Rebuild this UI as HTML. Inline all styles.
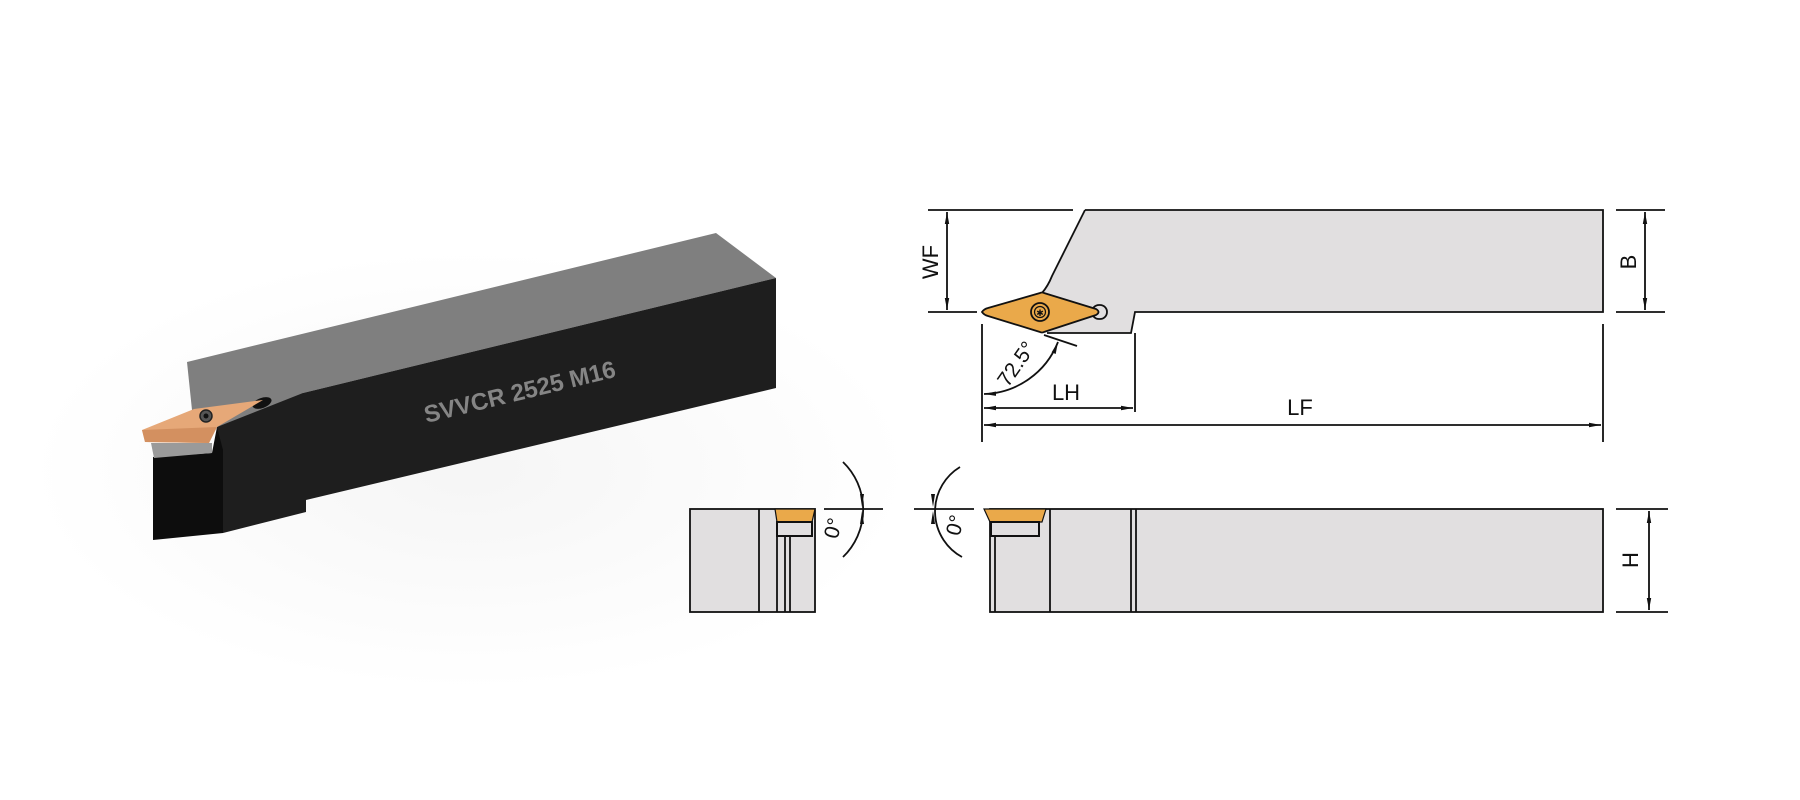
<!DOCTYPE html>
<html><head><meta charset="utf-8"><style>
html,body{margin:0;padding:0;background:#fff;}
svg{display:block;}
text{font-family:"Liberation Sans",sans-serif;}
</style></head><body>
<svg width="1800" height="800" viewBox="0 0 1800 800" xmlns="http://www.w3.org/2000/svg">
<defs>
<radialGradient id="sh" cx="0.5" cy="0.5" r="0.5">
<stop offset="0" stop-color="#ececec"/><stop offset="1" stop-color="#ffffff"/>
</radialGradient>
<marker id="ar" viewBox="0 0 12 6" refX="12" refY="3" markerWidth="12" markerHeight="6" orient="auto-start-reverse" markerUnits="userSpaceOnUse">
<path d="M0,0.8 L12,3 L0,5.2 z" fill="#111"/></marker>
</defs>
<ellipse cx="470" cy="470" rx="440" ry="220" fill="url(#sh)" opacity="0.5"/>

<!-- 3D tool -->
<polygon points="187,362 716,233 776,278 303,393 306,402 263,412 217,427 192,410" fill="#7f7f7f"/>
<polygon points="303,393 776,278 776,388 306,500 306,512 223,533 217,427" fill="#1e1e1e"/>
<polygon points="153,457 212,453 217,427 223,450 223,533 153,540" fill="#0d0d0d"/>
<polygon points="151,443 212,443 212,453 154,458" fill="#9a9a9a"/>
<ellipse cx="262" cy="403" rx="10" ry="5" fill="#111" transform="rotate(-20 262 403)"/>
<polygon points="142,430 194,409 263,400 217,427 209,443 145,442" fill="#e6a878"/>
<polygon points="142,430 145,442 209,443 217,427" fill="#d39060"/>
<circle cx="206" cy="416" r="6" fill="#555" stroke="#222" stroke-width="1.5"/>
<circle cx="206" cy="416" r="2.5" fill="#111"/>
<text x="520" y="400" font-size="24" font-weight="bold" fill="#858585" text-anchor="middle" transform="rotate(-13.7 520 393)">SVVCR 2525 M16</text>

<!-- Top view -->
<g stroke="#111" stroke-width="1.8" fill="none">
<path d="M1085,210 L1603,210 L1603,312 L1135,312 L1131,333 L1047,333 L1042,293 Q1048,285 1052,276 Z" fill="#e1dfe0" stroke="none"/>
<path d="M1085,210 L1603,210 L1603,312 L1135,312 L1131,333 L1047,333"/>
<path d="M1085,210 L1052,276 Q1048,286 1042,293"/>
<line x1="928" y1="210" x2="1073" y2="210"/>
<line x1="928" y1="312" x2="977" y2="312"/>
<line x1="1616" y1="210" x2="1665" y2="210"/>
<line x1="1616" y1="312" x2="1665" y2="312"/>
<line x1="947" y1="212" x2="947" y2="310" marker-start="url(#ar)" marker-end="url(#ar)"/>
<line x1="1645" y1="212" x2="1645" y2="310" marker-start="url(#ar)" marker-end="url(#ar)"/>
<rect x="1092" y="305" width="15" height="14" rx="7" fill="#e1dfe0"/>
<path d="M982,312 Q984,309 988,308 L1040,293 Q1042,292 1044,293 L1096,309 Q1101,312 1096,315 L1044,332 Q1042,333 1040,332 L988,316 Q984,315 982,312 Z" fill="#eaa94a"/>
<circle cx="1040" cy="312" r="9" fill="#eaa94a" stroke-width="1.8"/>
<circle cx="1040" cy="312" r="5.5" stroke-width="1.2"/>
<line x1="982" y1="324" x2="982" y2="442"/>
<line x1="1135" y1="333" x2="1135" y2="412"/>
<line x1="1603" y1="324" x2="1603" y2="442"/>
<line x1="984" y1="408" x2="1133" y2="408" marker-start="url(#ar)" marker-end="url(#ar)"/>
<line x1="984" y1="425" x2="1601" y2="425" marker-start="url(#ar)" marker-end="url(#ar)"/>
<path d="M984,394 A82,82 0 0 0 1058,342" marker-start="url(#ar)" marker-end="url(#ar)"/>
<line x1="1044" y1="335" x2="1077" y2="346"/>
</g>
<text x="1040" y="316" font-size="9" text-anchor="middle" fill="#111">✱</text>
<text x="1066" y="400" font-size="22" text-anchor="middle" fill="#111">LH</text>
<text x="1300" y="415" font-size="22" text-anchor="middle" fill="#111">LF</text>
<text x="0" y="0" font-size="22" text-anchor="middle" fill="#111" transform="translate(938,262) rotate(-90)">WF</text>
<text x="0" y="0" font-size="22" text-anchor="middle" fill="#111" transform="translate(1636,262) rotate(-90)">B</text>
<text x="0" y="0" font-size="21" text-anchor="middle" fill="#111" transform="translate(1022,368) rotate(-55)">72.5°</text>

<!-- Front views -->
<g stroke="#111" stroke-width="1.8" fill="none">
<rect x="690" y="509" width="125" height="103" fill="#e1dfe0"/>
<line x1="759" y1="509" x2="759" y2="612"/>
<line x1="777" y1="536" x2="777" y2="612"/>
<line x1="785" y1="536" x2="785" y2="612"/>
<line x1="790" y1="536" x2="790" y2="612"/>
<polygon points="775,509 815,509 812,522 777,522" fill="#eaa94a" stroke-width="1.2"/>
<rect x="777" y="522" width="35" height="14" fill="#e1dfe0" stroke-width="2"/>
<line x1="824" y1="509" x2="883" y2="509"/>
<path d="M843,462 A66,66 0 0 1 843,557"/>
<rect x="990" y="509" width="613" height="103" fill="#e1dfe0"/>
<line x1="995" y1="509" x2="995" y2="612"/>
<line x1="1050" y1="509" x2="1050" y2="612"/>
<line x1="1131" y1="509" x2="1131" y2="612"/>
<line x1="1136" y1="509" x2="1136" y2="612"/>
<polygon points="984,509 1046,509 1042,522 990,522" fill="#eaa94a" stroke-width="1.2"/>
<rect x="991" y="522" width="48" height="14" fill="#e1dfe0" stroke-width="2"/>
<line x1="914" y1="509" x2="974" y2="509"/>
<path d="M960,467 A52,52 0 0 0 962,557"/>
<line x1="1616" y1="509" x2="1668" y2="509"/>
<line x1="1616" y1="612" x2="1668" y2="612"/>
<line x1="1649" y1="511" x2="1649" y2="610" marker-start="url(#ar)" marker-end="url(#ar)"/>
</g>
<polygon points="860,494 864,494 862,507" fill="#111"/>
<polygon points="860,524 864,524 862,511" fill="#111"/>
<polygon points="931,494 935,494 933,507" fill="#111"/>
<polygon points="931,524 935,524 933,511" fill="#111"/>
<text x="0" y="0" font-size="21" text-anchor="middle" fill="#111" transform="translate(840,530) rotate(-75)">0°</text>
<text x="0" y="0" font-size="21" text-anchor="middle" fill="#111" transform="translate(962,527) rotate(-75)">0°</text>
<text x="0" y="0" font-size="22" text-anchor="middle" fill="#111" transform="translate(1638,560) rotate(-90)">H</text>
</svg>
</body></html>
